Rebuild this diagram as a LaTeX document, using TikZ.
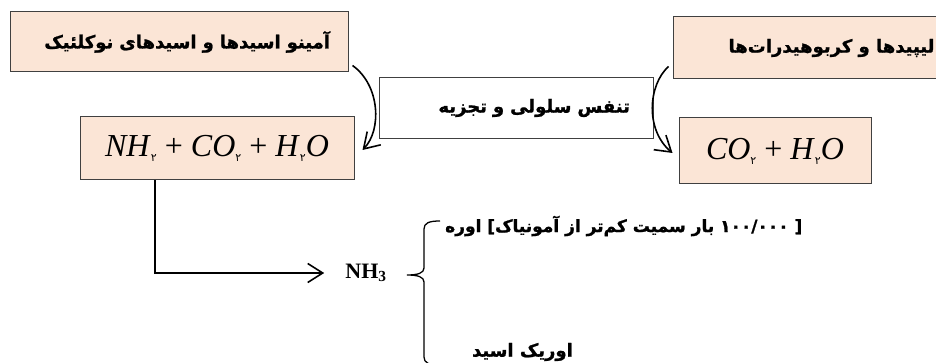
\documentclass[tikz,border=0pt]{standalone}
\usepackage{fontspec}
\setmainfont{Liberation Serif}
\newfontfamily\farsi[Script=Arabic, BoldFeatures={FakeBold=1.2}]{DejaVu Sans}
\TeXXeTstate=1
\usetikzlibrary{arrows.meta}
\definecolor{peach}{HTML}{FBE5D6}
\newcommand{\fa}[1]{{\farsi\bfseries\beginR #1\endR}}
\newcommand{\fsub}[1]{\raisebox{-0.35ex}{\fontsize{11}{11}\selectfont\farsi #1}}
\tikzset{ b/.style = { rectangle % box
, draw = black!75
, fill = peach
, line width = 1pt
}
, c/.style = { rectangle % plain box
, draw = black!75
, fill = white
, line width = 1pt
}
, t/.style = { font = \fontsize{18}{21}\selectfont % farsi text
}
, f/.style = { font = \fontsize{32}{34}\selectfont % formula
}
, a/.style = { line width = 1.6pt
, -{Straight Barb[length=15pt,width=19pt,line width=1.6pt]}
}
}

\begin{document}
\begin{tikzpicture}[x=1pt, y=-1pt]
\useasboundingbox (0,0) rectangle (936,363);

\node [b, t, minimum height=60pt, text width=302pt, inner xsep=18pt, align=right] (amino) at (179,42) {\fa{آمینو اسیدها و اسیدهای نوکلئیک}};
\node [b, t, minimum width=317pt, minimum height=62pt] (lipid) at (831.5,48) {\fa{لیپیدها و کربوهیدرات‌ها}};
\node [c, t, minimum height=61pt, text width=228pt, inner xsep=23pt, align=right] (resp) at (516,108) {\fa{تنفس سلولی و تجزیه}};
\node [b, f, minimum width=274pt, minimum height=63pt] (prodN) at (217,148.5) {\textit{NH}\fsub{۲} + \textit{CO}\fsub{۲} + \textit{H}\fsub{۲}\textit{O}};
\node [b, f, minimum width=192pt, minimum height=66pt] (prodC) at (775,151) {\textit{CO}\fsub{۲} + \textit{H}\fsub{۲}\textit{O}};

\node [font=\fontsize{22}{24}\selectfont\bfseries, inner sep=0pt] (nh) at (366,273) {NH\textsubscript{3}};
\node [t, font=\fontsize{17}{20}\selectfont, anchor=west, inner sep=0pt] (urea) at (445,226) {\fa{[ ۱۰۰/۰۰۰ بار سمیت کم‌تر از آمونیاک\kern0pt] اوره}};
\node [t, anchor=east, inner sep=0pt] (uric) at (573,352) {\fa{اوریک اسید}};

% curved arrows
\draw [a] ([shift={(4,-7)}]amino.south east) .. controls (380,85) and (382,130) .. ([shift={(8,1.5)}]prodN.east);
\draw [a] ([shift={(-4,-13)}]lipid.south west) .. controls (648,85) and (645,130) .. ([shift={(-6,2)}]prodC.west);

% to ammonia
\draw [a] ([xshift=-62]prodN.south) |- ([xshift=-21]nh.west);

% brace
\coordinate (br1) at (440,221);
\coordinate (br2) at (440,365);
\draw [line width=1.3pt] (br1) .. controls (429,221) and (424,223) .. (424,229) -- (424,268)
  .. controls (424,273) and (418,275) .. (407,275) .. controls (418,275) and (424,277) .. (424,282)
  -- (424,357) .. controls (424,363) and (429,365) .. (br2);
\end{tikzpicture}
\end{document}
